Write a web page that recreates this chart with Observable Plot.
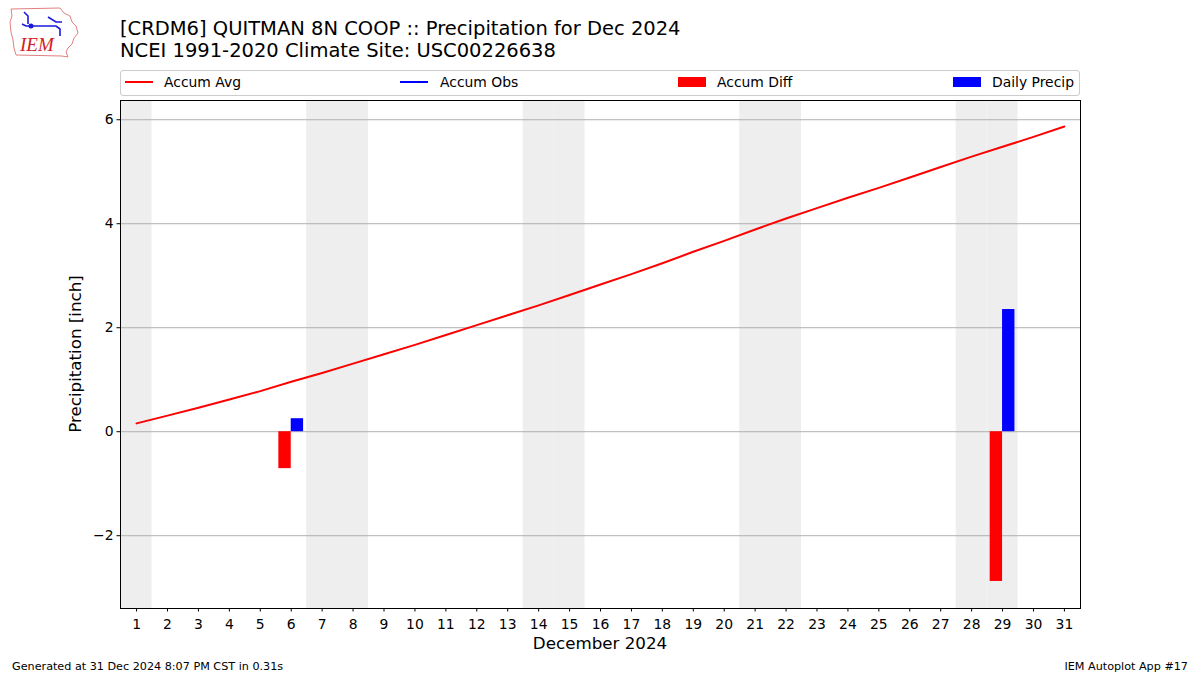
<!DOCTYPE html>
<html>
<head>
<meta charset="utf-8">
<script src="https://cdn.jsdelivr.net/npm/d3@7"></script>
<script src="https://cdn.jsdelivr.net/npm/@observablehq/plot@0.6"></script>
<style>
  html, body { margin: 0; padding: 0; background: #fff; }
  #wrap { position: relative; width: 1200px; height: 675px; font-family: "DejaVu Sans", sans-serif; color: #000; overflow: hidden; }
  #chart { position: absolute; left: 0; top: 0; }
  .abs { position: absolute; white-space: nowrap; }
  #title { left: 120px; top: 18px; font-size: 19.5px; line-height: 22px; }
  #legend { left: 120px; top: 70px; width: 958px; height: 24px; border: 1px solid #cccccc; border-radius: 3px; background: #fff; }
  .lg { position: absolute; top: -1px; height: 24px; font-size: 13.9px; line-height: 24px; }
  .sw-line { position: absolute; top: 10px; width: 28px; height: 2px; }
  .sw-rect { position: absolute; top: 6px; width: 28px; height: 10px; }
  #ylabel { left: 75px; top: 354px; font-size: 16.7px; transform: translate(-50%, -50%) rotate(-90deg); }
  #xlabel { left: 600px; top: 643px; font-size: 16.7px; transform: translate(-50%, -50%); }
  #foot-l { left: 12px; top: 660px; font-size: 11.2px; }
  #foot-r { right: 12px; top: 660px; font-size: 11.2px; }
  #logo { left: 8px; top: 4px; }
</style>
</head>
<body>
<div id="wrap">
  <div id="chart"></div>
  <svg id="logo" class="abs" width="74" height="56" viewBox="0 0 74 56">
    <path d="M3,5 L52,4 L56,9 L62,12 L64,18 L68,22 L70,29 L66,34 L64,40 L60,44 L58,48 L60,53 L54,52 L8,51 L6,44 L5,36 L3,28 L2,18 L4,12 Z" fill="none" stroke="#e08080" stroke-width="1"/>
    <path d="M16,8 L20,12 L20,20 M14,20 L18,22 L48,22 L52,25 L52,32 M40,13 L48,18 L54,18" fill="none" stroke="#1a1adc" stroke-width="1.6"/>
    <circle cx="23" cy="22" r="2.5" fill="#1a1adc"/>
    <text x="12" y="47" font-family="Liberation Serif, serif" font-style="italic" font-size="19" fill="#d42020">IEM</text>
  </svg>
  <div id="title" class="abs">[CRDM6] QUITMAN 8N COOP :: Precipitation for Dec 2024<br>NCEI 1991-2020 Climate Site: USC00226638</div>
  <div id="legend" class="abs">
    <div class="sw-line" style="left:4px;background:#ff0000"></div>
    <div class="lg" style="left:43px">Accum Avg</div>
    <div class="sw-line" style="left:279px;background:#0000ff"></div>
    <div class="lg" style="left:319px">Accum Obs</div>
    <div class="sw-rect" style="left:557px;background:#ff0000"></div>
    <div class="lg" style="left:596px">Accum Diff</div>
    <div class="sw-rect" style="left:832px;background:#0000ff"></div>
    <div class="lg" style="left:871px">Daily Precip</div>
  </div>
  <div id="ylabel" class="abs">Precipitation [inch]</div>
  <div id="xlabel" class="abs">December 2024</div>
  <div id="foot-l" class="abs">Generated at 31 Dec 2024 8:07 PM CST in 0.31s</div>
  <div id="foot-r" class="abs">IEM Autoplot App #17</div>
</div>
<script>
// ---- data ----
const days = [1,2,3,4,5,6,7,8,9,10,11,12,13,14,15,16,17,18,19,20,21,22,23,24,25,26,27,28,29,30,31];
const accumAvg = [0.16,0.31,0.46,0.62,0.78,0.96,1.13,1.31,1.49,1.67,1.86,2.05,2.24,2.43,2.63,2.83,3.03,3.24,3.46,3.67,3.89,4.10,4.30,4.50,4.69,4.89,5.09,5.29,5.48,5.67,5.87];
const precipDays = [6, 29];
const dailyPrecip = [0.25, 2.35];
const accumDiff = [-0.71, -2.88];
const weekendDays = [1,7,8,14,15,21,22,28,29];
const yTicks = [-2, 0, 2, 4, 6];

const avgData = days.map((d, i) => ({day: d, avg: accumAvg[i]}));
const barData = precipDays.map((d, i) => ({day: d, precip: dailyPrecip[i], diff: accumDiff[i]}));

const chart = Plot.plot({
  width: 1200,
  height: 675,
  marginTop: 100,
  marginBottom: 67,
  marginLeft: 120,
  marginRight: 120,
  style: {fontFamily: "DejaVu Sans, sans-serif", fontSize: "13.9px", color: "#000", background: "transparent"},
  x: {domain: [0.48, 31.52]},
  y: {domain: [-3.4, 6.37]},
  marks: [
    Plot.rect(weekendDays, {x1: d => d - 0.5, x2: d => d + 0.5, fill: "#eeeeee"}),
    Plot.gridY(yTicks, {stroke: "#b0b0b0", strokeOpacity: 1, strokeWidth: 1}),
    Plot.rect(barData, {x1: d => d.day - 0.4, x2: d => d.day, y1: 0, y2: "diff", fill: "#ff0000"}),
    Plot.rect(barData, {x1: d => d.day, x2: d => d.day + 0.4, y1: 0, y2: "precip", fill: "#0000ff"}),
    Plot.line(avgData, {x: "day", y: "avg", stroke: "#ff0000", strokeWidth: 2}),
    Plot.frame({stroke: "#000", strokeWidth: 1}),
    Plot.axisX(days, {tickSize: 3.5, tickPadding: 7, tickFormat: d => String(d), label: null}),
    Plot.axisY(yTicks, {tickSize: 3.5, tickPadding: 3.5, tickFormat: d3.format("d"), label: null})
  ]
});
document.getElementById("chart").appendChild(chart);
</script>
</body>
</html>
